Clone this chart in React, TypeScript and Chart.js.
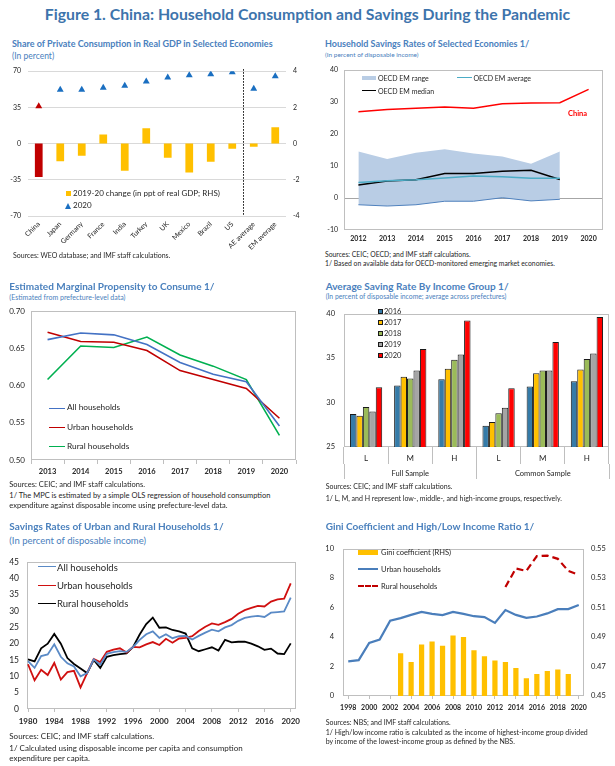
import React, { useEffect, useRef } from "react";
import { Chart, registerables } from "chart.js";

Chart.register(...registerables);

// ---------------- DATA ----------------
// Panel 1: Share of private consumption
const p1Categories = ["China", "Japan", "Germany", "France", "India", "Turkey", "UK", "Mexico", "Brazil", "US", "AE average", "EM average"];
const p1Change = [-1.85, -0.98, -0.67, 0.5, -1.5, 0.85, -0.78, -1.6, -1.0, -0.28, -0.18, 0.9];
const p1Share2020 = [36, 52, 52, 54, 56, 60, 64, 66, 67, 69, 53, 65];

// Panel 2: Household savings rates of selected economies
const p2Years = ["2012", "2013", "2014", "2015", "2016", "2017", "2018", "2019", "2020"];
const p2China = [27.0, 27.7, 28.1, 28.5, 28.1, 29.5, 29.7, 29.8, 34.0];
const p2RangeLow = [-2.1, -2.5, -2.1, -1.0, -1.0, 0.1, -0.9, -0.4, null];
const p2RangeHigh = [14.6, 12.2, 14.2, 15.3, 13.9, 13.0, 10.7, 14.6, null];
const p2Average = [4.9, 5.4, 5.7, 6.3, 6.9, 6.7, 6.2, 6.2, null];
const p2Median = [4.1, 5.3, 5.7, 7.7, 7.7, 8.4, 8.7, 5.8, null];

// Panel 3: Marginal propensity to consume
const p3Years = ["2013", "2014", "2015", "2016", "2017", "2018", "2019", "2020"];
const p3All = [0.6616, 0.6705, 0.668, 0.655, 0.631, 0.615, 0.605, 0.5455];
const p3Urban = [0.6714, 0.659, 0.658, 0.647, 0.62, 0.608, 0.596, 0.556];
const p3Rural = [0.608, 0.653, 0.651, 0.665, 0.641, 0.626, 0.608, 0.533];

// Panel 4: Average saving rate by income group
const p4Groups = ["Full Sample", "Common Sample"];
const p4Categories = ["L", "M", "H", "L", "M", "H"];
const p4Series = ["2016", "2017", "2018", "2019", "2020"];
const p4Values2016 = [28.7, 31.9, 32.6, 27.4, 31.8, 32.4];
const p4Values2017 = [28.5, 32.9, 33.8, 27.8, 33.3, 33.7];
const p4Values2018 = [29.5, 32.7, 34.8, 28.8, 33.6, 34.9];
const p4Values2019 = [29.0, 33.6, 35.4, 29.4, 33.6, 35.5];
const p4Values2020 = [31.7, 36.0, 39.2, 31.6, 36.8, 39.6];

// Panel 5: Savings rates of urban and rural households
const p5Years = [
  "1980", "1981", "1982", "1983", "1984", "1985", "1986", "1987", "1988", "1989",
  "1990", "1991", "1992", "1993", "1994", "1995", "1996", "1997", "1998", "1999",
  "2000", "2001", "2002", "2003", "2004", "2005", "2006", "2007", "2008", "2009",
  "2010", "2011", "2012", "2013", "2014", "2015", "2016", "2017", "2018", "2019", "2020",
];
const p5All = [
  14.7, 12.6, 16.2, 16.7, 19.8, 16.0, 14.0, 13.0, 10.0, 11.0,
  15.2, 13.6, 16.9, 17.4, 17.7, 17.5, 19.0, 21.2, 22.9, 23.8,
  21.8, 22.9, 21.7, 22.3, 22.4, 21.3, 22.4, 23.4, 24.3, 23.8,
  25.0, 25.7, 27.0, 27.9, 28.3, 28.5, 28.2, 29.5, 29.7, 29.9, 34.1,
];
const p5Urban = [
  13.7, 8.8, 12.0, 10.4, 14.1, 9.0, 11.3, 11.7, 6.6, 11.0,
  15.3, 14.4, 17.5, 18.2, 18.6, 17.3, 19.0, 18.9, 19.8, 20.5,
  19.6, 21.5, 20.3, 21.6, 21.8, 22.3, 23.9, 25.2, 26.2, 25.8,
  26.6, 27.6, 29.2, 30.3, 31.0, 31.6, 31.4, 32.9, 33.6, 33.8, 38.5,
];
const p5Rural = [
  15.2, 14.6, 18.6, 20.0, 23.0, 20.0, 15.6, 13.8, 12.4, 11.0,
  15.0, 12.6, 16.0, 16.5, 16.8, 17.0, 19.0, 22.8, 26.0, 28.0,
  24.9, 25.0, 24.2, 23.8, 23.1, 18.6, 17.7, 18.3, 18.9, 17.9,
  21.2, 20.4, 20.6, 20.6, 20.0, 19.2, 18.1, 18.5, 17.0, 16.8, 20.1,
];

// Panel 6: Gini coefficient and high/low income ratio
const p6Years = [
  "1998", "1999", "2000", "2001", "2002", "2003", "2004", "2005", "2006", "2007", "2008", "2009",
  "2010", "2011", "2012", "2013", "2014", "2015", "2016", "2017", "2018", "2019", "2020",
];
const p6Gini = [
  null, null, null, null, null, 0.479, 0.473, 0.485, 0.487, 0.484, 0.491, 0.49,
  0.481, 0.477, 0.474, 0.473, 0.469, 0.462, 0.465, 0.467, 0.468, 0.465, null,
];
const p6Urban = [
  2.35, 2.43, 3.6, 3.83, 5.1, 5.28, 5.5, 5.7, 5.57, 5.48, 5.7, 5.57,
  5.41, 5.35, 4.96, 5.83, 5.5, 5.3, 5.39, 5.6, 5.89, 5.89, 6.17,
];
const p6Rural = [
  null, null, null, null, null, null, null, null, null, null, null, null,
  null, null, null, 7.39, 8.65, 8.48, 9.48, 9.52, 9.3, 8.48, 8.22,
];

// ---------------- STYLE ----------------
const FONT = "Lato, 'Open Sans', 'DejaVu Sans', sans-serif";
const MAIN_BLUE = "#3d74ac";
const TITLE_BLUE = "#4a80bd";
const GRAY = "#bfbfbf";
const TXT = "#262626";

Chart.defaults.font.family = FONT;
Chart.defaults.color = TXT;

const boxPlugin = {
  id: "box",
  beforeDatasetsDraw(chart: any, _args: any, opts: any) {
    if (!opts || !opts.color) return;
    const { ctx, chartArea: a } = chart;
    const l = opts.left || 0;
    const r = opts.right || 0;
    ctx.save();
    ctx.strokeStyle = opts.color;
    ctx.lineWidth = 1;
    const x0 = Math.round(a.left - l) + 0.5;
    const y0 = Math.round(a.top) + 0.5;
    const x1 = Math.round(a.right + r) - 0.5;
    const y1 = Math.round(a.bottom) - 0.5;
    ctx.strokeRect(x0, y0, x1 - x0, y1 - y0);
    ctx.restore();
  },
};

const separatorPlugin = {
  id: "separator",
  afterDatasetsDraw(chart: any, _args: any, opts: any) {
    if (!opts || opts.after == null) return;
    const { ctx, chartArea: a, scales } = chart;
    const x = scales.x;
    const px = Math.round((x.getPixelForValue(opts.after) + x.getPixelForValue(opts.after + 1)) / 2) + 0.5;
    ctx.save();
    ctx.strokeStyle = "#000";
    ctx.lineWidth = 1;
    ctx.setLineDash([1.5, 1.5]);
    ctx.beginPath();
    ctx.moveTo(px, a.top - 2);
    ctx.lineTo(px, a.bottom);
    ctx.stroke();
    ctx.restore();
  },
};

const fixW = (w: number) => (s: any) => {
  s.width = w;
};
const fixH = (h: number) => (s: any) => {
  s.height = h;
};

const baseOptions = (padding: any) => ({
  responsive: false,
  animation: false as const,
  devicePixelRatio: 1,
  layout: { padding },
  plugins: { legend: { display: false }, tooltip: { enabled: false } },
});

// ---------------- CHART CONFIGS ----------------
function panel1(): any {
  return {
    type: "bar",
    data: {
      labels: p1Categories,
      datasets: [
        {
          type: "line",
          label: "2020",
          data: p1Share2020,
          yAxisID: "y",
          showLine: false,
          pointStyle: "triangle",
          pointRadius: 4,
          pointBorderWidth: 0,
          pointBackgroundColor: p1Categories.map((c) => (c === "China" ? "#c00000" : "#1a6fc1")),
          pointBorderColor: p1Categories.map((c) => (c === "China" ? "#c00000" : "#1a6fc1")),
          order: 0,
        },
        {
          type: "bar",
          label: "2019-20 change (in ppt of real GDP; RHS)",
          data: p1Change,
          yAxisID: "y2",
          backgroundColor: p1Categories.map((c) => (c === "China" ? "#c00000" : "#ffc000")),
          barPercentage: 0.36,
          categoryPercentage: 1,
          order: 1,
        },
      ],
    },
    options: {
      ...baseOptions({ top: 9, left: 0, right: 0, bottom: 0 }),
      plugins: { legend: { display: false }, tooltip: { enabled: false }, separator: { after: 9 } },
      scales: {
        x: {
          grid: { display: false, drawTicks: false },
          border: { display: false },
          ticks: { autoSkip: false, minRotation: 45, maxRotation: 45, font: { size: 7 }, padding: 4 },
          afterFit: fixH(40),
        },
        y: {
          position: "left",
          min: -70,
          max: 70,
          ticks: { stepSize: 35, font: { size: 7 }, padding: 7 },
          grid: { color: "#d9d9d9", drawTicks: false },
          border: { display: false },
          afterFit: fixW(28),
        },
        y2: {
          position: "right",
          min: -4,
          max: 4,
          ticks: { stepSize: 2, font: { size: 7 }, padding: 7 },
          grid: { display: false, drawTicks: false },
          border: { display: false },
          afterFit: fixW(19),
        },
      },
    },
    plugins: [separatorPlugin],
  };
}

function panel2(): any {
  return {
    type: "line",
    data: {
      labels: p2Years,
      datasets: [
        { label: "low", data: p2RangeLow, borderColor: "#4f81bd", borderWidth: 1, pointRadius: 0, fill: false },
        { label: "OECD EM range", data: p2RangeHigh, borderWidth: 0, borderColor: "rgba(0,0,0,0)", backgroundColor: "#b9cde5", pointRadius: 0, fill: "-1" },
        { label: "OECD EM average", data: p2Average, borderColor: "#4bacc6", borderWidth: 1.5, pointRadius: 0 },
        { label: "OECD EM median", data: p2Median, borderColor: "#000", borderWidth: 1.5, pointRadius: 0 },
        { label: "China", data: p2China, borderColor: "#ff0000", borderWidth: 1.5, pointRadius: 0 },
      ],
    },
    options: {
      ...baseOptions({ top: 9, left: 0, right: 12, bottom: 0 }),
      plugins: {
        legend: { display: false },
        tooltip: { enabled: false },
        box: { color: GRAY },
        filler: { drawTime: "beforeDatasetsDraw" },
      },
      scales: {
        x: {
          offset: true,
          grid: { display: false, drawTicks: false },
          border: { display: false },
          ticks: { font: { size: 7, weight: "bold" }, padding: 5 },
          afterFit: fixH(20),
        },
        y: {
          min: -10,
          max: 40,
          ticks: { stepSize: 10, font: { size: 7 }, padding: 6 },
          grid: { drawTicks: false, color: (c: any) => (c.tick && c.tick.value === 0 ? "#a6a6a6" : "rgba(0,0,0,0)") },
          border: { display: false },
          afterFit: fixW(39),
        },
      },
    },
    plugins: [boxPlugin],
  };
}

function panel3(): any {
  return {
    type: "line",
    data: {
      labels: p3Years,
      datasets: [
        { label: "All households", data: p3All, borderColor: "#4472c4", borderWidth: 1.6, pointRadius: 0 },
        { label: "Urban households", data: p3Urban, borderColor: "#c00000", borderWidth: 1.6, pointRadius: 0 },
        { label: "Rural households", data: p3Rural, borderColor: "#00b050", borderWidth: 1.6, pointRadius: 0 },
      ],
    },
    options: {
      ...baseOptions({ top: 11, left: 0, right: 9, bottom: 0 }),
      plugins: { legend: { display: false }, tooltip: { enabled: false }, box: { color: GRAY } },
      scales: {
        x: {
          offset: true,
          grid: { offset: true, drawOnChartArea: false, tickLength: 4, color: GRAY },
          border: { display: false },
          ticks: { font: { size: 7.5, weight: "bold" }, padding: 3 },
          afterFit: fixH(20),
        },
        y: {
          min: 0.5,
          max: 0.7,
          ticks: { stepSize: 0.05, font: { size: 8 }, padding: 6, callback: (v: any) => Number(v).toFixed(2) },
          grid: { display: false, drawTicks: false },
          border: { display: false },
          afterFit: fixW(31),
        },
      },
    },
    plugins: [boxPlugin],
  };
}

function panel4(): any {
  const colors = ["#357ba8", "#ffc000", "#9bbb59", "#a5a5a5", "#ff0000"];
  const values = [p4Values2016, p4Values2017, p4Values2018, p4Values2019, p4Values2020];
  return {
    type: "bar",
    data: {
      labels: p4Categories,
      datasets: p4Series.map((name, i) => ({
        label: name,
        data: values[i],
        backgroundColor: colors[i],
        borderColor: "#1a1a1a",
        borderWidth: 1,
        categoryPercentage: 0.73,
        barPercentage: 1,
      })),
    },
    options: {
      ...baseOptions({ top: 7, left: 0, right: 6, bottom: 0 }),
      plugins: { legend: { display: false }, tooltip: { enabled: false }, box: { color: GRAY } },
      scales: {
        x: {
          grid: { offset: true, drawOnChartArea: false, tickLength: 17, color: GRAY },
          border: { display: false },
          ticks: { font: { size: 8 }, padding: -10 },
          afterFit: fixH(17),
        },
        x2: {
          type: "category",
          labels: p4Groups,
          position: "bottom",
          offset: true,
          grid: { offset: true, drawOnChartArea: false, tickLength: 15, color: GRAY },
          border: { display: false },
          ticks: { font: { size: 7.5 }, padding: -10 },
          afterFit: fixH(21),
        },
        y: {
          min: 25,
          max: 40,
          ticks: { stepSize: 5, font: { size: 7.5 }, padding: 9 },
          grid: { display: false, drawTicks: false },
          border: { display: false },
          afterFit: fixW(39),
        },
      },
    },
    plugins: [boxPlugin],
  };
}

function panel5(): any {
  return {
    type: "line",
    data: {
      labels: p5Years,
      datasets: [
        { label: "All households", data: p5All, borderColor: "#5a8ac6", borderWidth: 1.8, pointRadius: 0, clip: 4 },
        { label: "Urban households", data: p5Urban, borderColor: "#d01010", borderWidth: 1.8, pointRadius: 0, clip: 4 },
        { label: "Rural households", data: p5Rural, borderColor: "#000", borderWidth: 1.8, pointRadius: 0, clip: 4 },
      ],
    },
    options: {
      ...baseOptions({ top: 7, left: 0, right: 14, bottom: 0 }),
      plugins: { legend: { display: false }, tooltip: { enabled: false }, box: { color: GRAY, left: 1.5, right: 5 } },
      scales: {
        x: {
          offset: false,
          grid: {
            drawOnChartArea: false,
            tickLength: 3,
            color: (c: any) => (c.index % 4 === 0 ? GRAY : "rgba(0,0,0,0)"),
          },
          border: { display: false },
          ticks: {
            autoSkip: false,
            maxRotation: 0,
            minRotation: 0,
            font: { size: 8, weight: "bold" },
            padding: 5,
            callback: (_v: any, i: number) => (i % 4 === 0 ? p5Years[i] : ""),
          },
          afterFit: fixH(23),
        },
        y: {
          min: 0,
          max: 45,
          ticks: { stepSize: 5, font: { size: 8.5 }, padding: 9 },
          grid: { display: false, drawTicks: false },
          border: { display: false },
          afterFit: fixW(28),
        },
      },
    },
    plugins: [boxPlugin],
  };
}

function panel6(): any {
  return {
    type: "bar",
    data: {
      labels: p6Years,
      datasets: [
        { type: "line", label: "Urban households", data: p6Urban, yAxisID: "y", borderColor: "#4a7ebb", borderWidth: 2.2, pointRadius: 0, order: 0 },
        { type: "line", label: "Rural households", data: p6Rural, yAxisID: "y", borderColor: "#c00000", borderWidth: 2.2, borderDash: [7, 4], pointRadius: 0, order: 0 },
        { type: "bar", label: "Gini coefficient (RHS)", data: p6Gini, yAxisID: "y2", backgroundColor: "#ffc000", barPercentage: 0.5, categoryPercentage: 1, order: 1 },
      ],
    },
    options: {
      ...baseOptions({ top: 8, left: 0, right: 0, bottom: 0 }),
      plugins: { legend: { display: false }, tooltip: { enabled: false }, box: { color: GRAY } },
      scales: {
        x: {
          offset: true,
          grid: {
            offset: false,
            drawOnChartArea: false,
            tickLength: 3,
            color: (c: any) => (c.index % 2 === 0 ? GRAY : "rgba(0,0,0,0)"),
          },
          border: { display: false },
          ticks: {
            autoSkip: false,
            maxRotation: 0,
            minRotation: 0,
            font: { size: 7, weight: "bold" },
            padding: 5,
            callback: (_v: any, i: number) => (i % 2 === 0 ? p6Years[i] : ""),
          },
          afterFit: fixH(21),
        },
        y: {
          position: "left",
          min: 0,
          max: 10,
          ticks: { stepSize: 2, font: { size: 7.5 }, padding: 9 },
          grid: { display: false, drawTicks: false },
          border: { display: false },
          afterFit: fixW(38),
        },
        y2: {
          position: "right",
          min: 0.45,
          max: 0.55,
          ticks: { stepSize: 0.02, font: { size: 7.5 }, padding: 7, callback: (v: any) => Number(v).toFixed(2) },
          grid: { display: false, drawTicks: false },
          border: { display: false },
          afterFit: fixW(31),
        },
      },
    },
    plugins: [boxPlugin],
  };
}

// ---------------- COMPONENTS ----------------
type Pos = { left: number; top: number; width: number; height: number };

function ChartBox({ pos, make }: { pos: Pos; make: () => any }) {
  const ref = useRef<HTMLCanvasElement | null>(null);
  useEffect(() => {
    if (!ref.current) return;
    const chart = new Chart(ref.current, make());
    return () => chart.destroy();
  }, []);
  return (
    <canvas
      ref={ref}
      width={pos.width}
      height={pos.height}
      style={{ position: "absolute", left: pos.left, top: pos.top, width: pos.width, height: pos.height }}
    />
  );
}

function Txt({ x, y, s, c = "#1f1f1f", b = false, children }: any) {
  return (
    <div
      style={{
        position: "absolute",
        left: x,
        top: y - s * 0.6,
        fontSize: s,
        lineHeight: `${s * 1.2}px`,
        color: c,
        fontWeight: b ? 700 : 400,
        whiteSpace: "nowrap",
        fontFamily: FONT,
      }}
    >
      {children}
    </div>
  );
}

function Box({ x, y, w, h, c, border }: any) {
  return (
    <div
      style={{
        position: "absolute",
        left: x,
        top: y,
        width: w,
        height: h,
        background: c,
        boxSizing: "border-box",
        border: border ? `1px solid ${border}` : undefined,
      }}
    />
  );
}

function HLine({ x, y, w, c, t = 2, dashed = false }: any) {
  return (
    <div
      style={{
        position: "absolute",
        left: x,
        top: y - t / 2,
        width: w,
        height: 0,
        borderTop: `${t}px ${dashed ? "dashed" : "solid"} ${c}`,
      }}
    />
  );
}

function Tri({ x, y, c }: any) {
  return (
    <div
      style={{
        position: "absolute",
        left: x,
        top: y,
        width: 0,
        height: 0,
        borderLeft: "3.5px solid transparent",
        borderRight: "3.5px solid transparent",
        borderBottom: `6px solid ${c}`,
      }}
    />
  );
}

export default function App() {
  const p4Colors = ["#357ba8", "#ffc000", "#9bbb59", "#a5a5a5", "#ff0000"];
  const p4Ys = [311.7, 322.3, 333.3, 344.3, 355.3];
  return (
    <div
      style={{
        position: "absolute",
        left: 0,
        top: 0,
        width: 615,
        height: 766,
        background: "#fff",
        overflow: "hidden",
        fontFamily: FONT,
      }}
    >
      {/* Main title */}
      <div
        style={{
          position: "absolute",
          left: 0,
          top: 13.5 - 9.5,
          width: 615,
          textAlign: "center",
          fontSize: 15.8,
          lineHeight: "19px",
          fontWeight: 700,
          color: MAIN_BLUE,
          whiteSpace: "nowrap",
        }}
      >
        Figure 1. China: Household Consumption and Savings During the Pandemic
      </div>

      {/* Panel 1 */}
      <Txt x={12} y={44} s={9} c={TITLE_BLUE} b>
        Share of Private Consumption in Real GDP in Selected Economies
      </Txt>
      <Txt x={12} y={56} s={8.5} c={TITLE_BLUE}>
        (In percent)
      </Txt>
      <ChartBox pos={{ left: 0, top: 60, width: 305, height: 196 }} make={panel1} />
      <Box x={66} y={191} w={5} h={5} c="#ffc000" />
      <Txt x={73} y={193.5} s={8} c={TXT}>
        2019-20 change (in ppt of real GDP; RHS)
      </Txt>
      <Tri x={65} y={202.5} c="#1a6fc1" />
      <Txt x={73} y={205.8} s={8} c={TXT}>
        2020
      </Txt>
      <Txt x={13} y={255} s={7} c={TXT}>
        Sources: WEO database; and IMF staff calculations.
      </Txt>

      {/* Panel 2 */}
      <Txt x={325} y={44} s={9} c={TITLE_BLUE} b>
        Household Savings Rates of Selected Economies 1/
      </Txt>
      <Txt x={325} y={55} s={6.5} c={TITLE_BLUE}>
        (In percent of disposable income)
      </Txt>
      <ChartBox pos={{ left: 305, top: 60, width: 310, height: 190 }} make={panel2} />
      <Box x={362} y={75.5} w={14} h={4.5} c="#b9cde5" />
      <Txt x={378} y={77.7} s={7} c={TXT}>
        OECD EM range
      </Txt>
      <HLine x={457} y={77.7} w={15} c="#4bacc6" t={1.5} />
      <Txt x={473.5} y={77.7} s={7} c={TXT}>
        OECD EM average
      </Txt>
      <HLine x={362} y={90.7} w={14} c="#000" t={1.5} />
      <Txt x={378} y={90.7} s={7} c={TXT}>
        OECD EM median
      </Txt>
      <Txt x={568} y={113.5} s={7.5} c="#ff0000" b>
        China
      </Txt>
      <Txt x={325} y={254} s={6.8} c={TXT}>
        Sources: CEIC; OECD; and IMF staff calculations.
      </Txt>
      <Txt x={325} y={263.5} s={6.8} c={TXT}>
        1/ Based on available data for OECD-monitored emerging market economies.
      </Txt>

      {/* Panel 3 */}
      <Txt x={9.3} y={285.7} s={10} c={TITLE_BLUE} b>
        Estimated Marginal Propensity to Consume 1/
      </Txt>
      <Txt x={9.3} y={296.7} s={7} c={TITLE_BLUE}>
        (Estimated from prefecture-level data)
      </Txt>
      <ChartBox pos={{ left: 0, top: 300, width: 305, height: 180 }} make={panel3} />
      <HLine x={49} y={408.3} w={16} c="#4472c4" t={1.6} />
      <Txt x={67} y={408.3} s={8.3} c={TXT}>
        All households
      </Txt>
      <HLine x={49} y={427.7} w={16} c="#c00000" t={1.6} />
      <Txt x={67} y={427.7} s={8.3} c={TXT}>
        Urban households
      </Txt>
      <HLine x={49} y={446.7} w={16} c="#00b050" t={1.6} />
      <Txt x={67} y={446.7} s={8.3} c={TXT}>
        Rural households
      </Txt>
      <Txt x={9.3} y={484.7} s={7.5} c={TXT}>
        Sources: CEIC; and IMF staff calculations.
      </Txt>
      <Txt x={9.3} y={495.3} s={7.5} c={TXT}>
        1/ The MPC is estimated by a simple OLS regression of household consumption
      </Txt>
      <Txt x={9.3} y={505} s={7.5} c={TXT}>
        expenditure against disposable income using prefecture-level data.
      </Txt>

      {/* Panel 4 */}
      <Txt x={325.7} y={285.7} s={10} c={TITLE_BLUE} b>
        Average Saving Rate By Income Group 1/
      </Txt>
      <Txt x={325.7} y={296} s={6.8} c={TITLE_BLUE}>
        (In percent of disposable income; average across prefectures)
      </Txt>
      <ChartBox pos={{ left: 305, top: 300, width: 310, height: 185 }} make={panel4} />
      {p4Series.map((name, i) => (
        <React.Fragment key={name}>
          <Box x={377.5} y={p4Ys[i] - 2.5} w={5} h={5} c={p4Colors[i]} border="#1a1a1a" />
          <Txt x={384} y={p4Ys[i]} s={7.5} c={TXT}>
            {name}
          </Txt>
        </React.Fragment>
      ))}
      <Txt x={325.7} y={486.3} s={7} c={TXT}>
        Sources: CEIC; and IMF staff calculations.
      </Txt>
      <Txt x={325.7} y={497.7} s={7} c={TXT}>
        1/ L, M, and H represent low-, middle-, and high-income groups, respectively.
      </Txt>

      {/* Panel 5 */}
      <Txt x={9.3} y={525.7} s={10} c={TITLE_BLUE} b>
        Savings Rates of Urban and Rural Households 1/
      </Txt>
      <Txt x={9.3} y={541} s={9.5} c={TITLE_BLUE}>
        (In percent of disposable income)
      </Txt>
      <ChartBox pos={{ left: 0, top: 548, width: 305, height: 184 }} make={panel5} />
      <HLine x={38.3} y={567.3} w={18} c="#5a8ac6" t={1.8} />
      <Txt x={57} y={567.3} s={9.5} c={TXT}>
        All households
      </Txt>
      <HLine x={38.3} y={585.7} w={18} c="#d01010" t={1.8} />
      <Txt x={57} y={585.7} s={9.5} c={TXT}>
        Urban households
      </Txt>
      <HLine x={38.3} y={604} w={18} c="#000" t={1.8} />
      <Txt x={57} y={604} s={9.5} c={TXT}>
        Rural households
      </Txt>
      <Txt x={9.3} y={736.7} s={8} c={TXT}>
        Sources: CEIC; and IMF staff calculations.
      </Txt>
      <Txt x={9.3} y={748.7} s={8} c={TXT}>
        1/ Calculated using disposable income per capita and consumption
      </Txt>
      <Txt x={9.3} y={758.3} s={8} c={TXT}>
        expenditure per capita.
      </Txt>

      {/* Panel 6 */}
      <Txt x={325.7} y={525.7} s={10} c={TITLE_BLUE} b>
        Gini Coefficient and High/Low Income Ratio 1/
      </Txt>
      <ChartBox pos={{ left: 305, top: 535, width: 310, height: 182 }} make={panel6} />
      <Box x={357.7} y={550} w={20.6} h={4.7} c="#ffc000" />
      <Txt x={381} y={552.3} s={7.5} c={TXT}>
        Gini coefficient (RHS)
      </Txt>
      <HLine x={357.7} y={569.3} w={20.6} c="#4a7ebb" t={2.2} />
      <Txt x={381} y={569.3} s={7.5} c={TXT}>
        Urban households
      </Txt>
      <HLine x={357.7} y={586.3} w={20.6} c="#c00000" t={2.2} dashed />
      <Txt x={381} y={586.3} s={7.5} c={TXT}>
        Rural households
      </Txt>
      <Txt x={325.7} y={721.7} s={7} c={TXT}>
        Sources: NBS; and IMF staff calculations.
      </Txt>
      <Txt x={325.7} y={731.7} s={7} c={TXT}>
        1/ High/low income ratio is calculated as the income of highest-income group divided
      </Txt>
      <Txt x={325.7} y={741} s={7} c={TXT}>
        by income of the lowest-income group as defined by the NBS.
      </Txt>
    </div>
  );
}
